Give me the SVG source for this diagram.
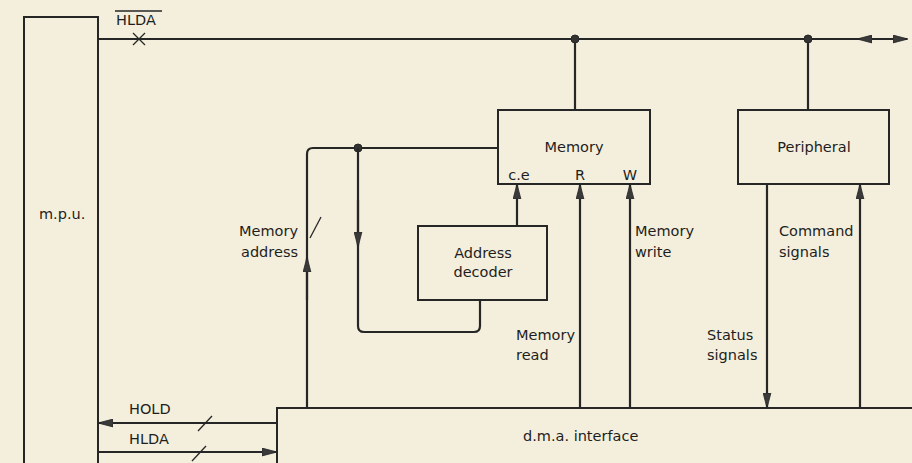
<svg xmlns="http://www.w3.org/2000/svg" width="912" height="463" viewBox="0 0 912 463">
<defs>
<style>
.bg{fill:#f4efdc}
.box{fill:none;stroke:#262626;stroke-width:2}
.ln{fill:none;stroke:#262626;stroke-width:2.2;stroke-linejoin:round}
.thin{fill:none;stroke:#262626;stroke-width:1.3}
.t{font-family:"DejaVu Sans","Liberation Sans",sans-serif;font-size:14.5px;fill:#1e1e1e}
.dot{fill:#333;stroke:#262626;stroke-width:1}
</style>
<marker id="ah" viewBox="0 0 15 9" refX="14" refY="4.5" markerWidth="15" markerHeight="9" markerUnits="userSpaceOnUse" orient="auto-start-reverse">
<path d="M0,0.6 L15,4.5 L0,8.4 Z" fill="#3a3a3a" stroke="#262626" stroke-width="0.8"/>
</marker>
</defs>
<rect class="bg" x="0" y="0" width="912" height="463"/>

<g id="mpu">
<rect class="box" x="24" y="17" width="74" height="460"/>
<text class="t" x="39" y="219">m.p.u.</text>
</g>

<g id="memory">
<rect class="box" x="498" y="110" width="152" height="74"/>
<text class="t" x="574" y="152" text-anchor="middle">Memory</text>
<text class="t" x="519" y="180" text-anchor="middle">c.e</text>
<text class="t" x="580" y="180" text-anchor="middle">R</text>
<text class="t" x="630" y="180" text-anchor="middle">W</text>
</g>

<g id="peripheral">
<rect class="box" x="738" y="110" width="151" height="74"/>
<text class="t" x="814" y="152" text-anchor="middle">Peripheral</text>
</g>

<g id="decoder">
<rect class="box" x="418" y="226" width="129" height="74"/>
<text class="t" x="483" y="258" text-anchor="middle">Address</text>
<text class="t" x="483" y="277" text-anchor="middle">decoder</text>
</g>

<g id="dma">
<path class="box" d="M277,470 V408 H920"/>
<text class="t" x="523" y="441">d.m.a. interface</text>
</g>

<g id="connectors">
<!-- top bus -->
<line class="ln" x1="98" y1="39" x2="872" y2="39"/>
<line class="ln" x1="858" y1="39" x2="907" y2="39" marker-start="url(#ah)" marker-end="url(#ah)"/>
<path class="thin" d="M133,33 L145,45 M145,33 L133,45" stroke-width="1.8"/>
<line class="ln" x1="575" y1="39" x2="575" y2="110"/>
<line class="ln" x1="808" y1="39" x2="808" y2="110"/>
<circle class="dot" cx="575" cy="39" r="4"/>
<circle class="dot" cx="808" cy="39" r="4"/>

<!-- memory address -->
<path class="ln" d="M307,408 V154 Q307,148 313,148 H498"/>
<line class="ln" x1="307" y1="300" x2="307" y2="258" marker-end="url(#ah)"/>
<line class="thin" x1="310" y1="238" x2="321" y2="217"/>
<circle class="dot" cx="358" cy="148" r="4"/>
<path class="ln" d="M358,148 V326 Q358,332 364,332 H474 Q480,332 480,326 V300"/>
<line class="ln" x1="358" y1="200" x2="358" y2="246" marker-end="url(#ah)"/>

<!-- c.e, R, W -->
<line class="ln" x1="517" y1="226" x2="517" y2="185" marker-end="url(#ah)"/>
<line class="ln" x1="580" y1="408" x2="580" y2="185" marker-end="url(#ah)"/>
<line class="ln" x1="630" y1="408" x2="630" y2="185" marker-end="url(#ah)"/>

<!-- status / command -->
<line class="ln" x1="767" y1="184" x2="767" y2="407" marker-end="url(#ah)"/>
<line class="ln" x1="860" y1="408" x2="860" y2="185" marker-end="url(#ah)"/>

<!-- HOLD / HLDA -->
<line class="ln" x1="277" y1="423" x2="99" y2="423" marker-end="url(#ah)"/>
<line class="thin" x1="198" y1="431" x2="212" y2="416"/>
<line class="ln" x1="98" y1="452" x2="276" y2="452" marker-end="url(#ah)"/>
<line class="thin" x1="192" y1="461" x2="206" y2="446"/>
</g>

<g id="labels">
<text class="t" x="116" y="25">HLDA</text>
<line class="thin" x1="115" y1="11" x2="162" y2="11"/>
<text class="t" x="298" y="236" text-anchor="end">Memory</text>
<text class="t" x="298" y="257" text-anchor="end">address</text>
<text class="t" x="516" y="340">Memory</text>
<text class="t" x="516" y="360">read</text>
<text class="t" x="635" y="236">Memory</text>
<text class="t" x="635" y="257">write</text>
<text class="t" x="779" y="236">Command</text>
<text class="t" x="779" y="257">signals</text>
<text class="t" x="707" y="340">Status</text>
<text class="t" x="707" y="360">signals</text>
<text class="t" x="129" y="414">HOLD</text>
<text class="t" x="129" y="444">HLDA</text>
</g>
</svg>
